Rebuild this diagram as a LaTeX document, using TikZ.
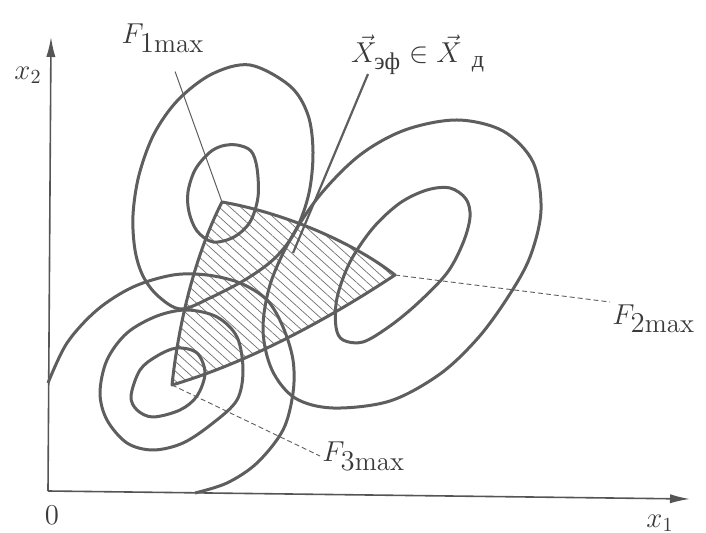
\documentclass[tikz,border=0pt]{standalone}
\usepackage{amsmath,amssymb}
\usepackage{fontspec}
\newfontfamily\cyrfont{Liberation Serif}
\usepackage{tikz}
\usetikzlibrary{arrows.meta,patterns.meta}
\definecolor{ink}{HTML}{3A3A3A}
\definecolor{curvegray}{HTML}{5E5E5E}
\definecolor{axisgray}{HTML}{555555}
\definecolor{hatchgray}{HTML}{707070}
\definecolor{paper}{HTML}{FFFFFF}
\tikzset{
  levelline/.style={draw=curvegray,line width=1.5pt,line join=round},
  closedlevel/.style={smooth cycle,tension=0.55},
  openlevel/.style={smooth,tension=0.55},
  axisline/.style={-{Latex[length=10pt,width=4.6pt]},draw=axisgray,line width=0.8pt},
  optzone/.style={draw=curvegray,line width=1.5pt,line join=round,pattern={Lines[angle=-42,distance=3.6pt,line width=0.35pt]},pattern color=hatchgray},
  thinlead/.style={draw=curvegray,line width=0.5pt},
  dashlead/.style={draw=curvegray,line width=0.45pt,dash pattern=on 2.5pt off 1.5pt},
  pointer/.style={draw=curvegray,line width=1.1pt},
  maxlabel/.style={text=ink,font=\fontsize{13.5}{15}\selectfont,inner sep=1pt},
  axlabel/.style={text=ink,font=\Large,inner sep=1pt}
}

\begin{document}
\begin{tikzpicture}[x=0.5pt,y=-0.5pt,>=Latex]
  \useasboundingbox[fill=paper] (0,0) rectangle (706,533);

  % axes
  \coordinate (o) at (48,491);
  \coordinate (ytip) at (51,37);
  \coordinate (xtip) at (690,499);
  \draw[axisline] (o) -- (ytip);
  \draw[axisline] (o) -- (xtip);
  \node[axlabel] (x2lab) at (28,75) {$x_2$};
  \node[axlabel] (x1lab) at (660,523) {$x_1$};
  \node[axlabel] (olab) at (52,515) {$0$};

  % maxima of the three criteria
  \coordinate (f1) at (222,202);
  \coordinate (f2) at (395,275);
  \coordinate (f3) at (172,385);

  % compromise zone
  \path[optzone] (f1) .. controls (280,212) and (350,240) .. (f2)
    .. controls (330,318) and (250,362) .. (f3)
    .. controls (180,310) and (200,245) .. (f1) -- cycle;

  % level lines of F1
  \draw[levelline] plot[closedlevel] coordinates {(250,65) (290,86) (308,115) (313,152) (309,193) (296,230) (276,257) (248,278) (212,297) (181,309) (158,296) (143,276) (135,250) (133,215) (139,175) (154,134) (178,100) (212,74)};
  \draw[levelline] plot[closedlevel] coordinates {(237,145) (251,151) (257,168) (258,197) (250,222) (234,237) (213,242) (197,231) (189,212) (188,192) (195,170) (209,153) (222,146)};

  % level lines of F2
  \draw[levelline] plot[closedlevel] coordinates {(457,120) (503,131) (533,162) (541,210) (530,257) (508,297) (478,338) (440,374) (390,401) (333,408) (295,398) (272,370) (263,330) (270,285) (290,240) (320,195) (360,155) (405,130)};
  \draw[levelline] plot[closedlevel] coordinates {(450,188) (466,199) (470,217) (463,243) (447,273) (418,303) (390,326) (363,342) (343,340) (336,327) (337,298) (350,262) (373,228) (400,203) (427,190)};

  % level lines of F3
  \draw[levelline] plot[closedlevel] coordinates {(140,370) (157,356) (177,348) (197,353) (205,373) (197,396) (180,410) (153,417) (137,410) (131,396)};
  \draw[levelline] plot[closedlevel] coordinates {(107,360) (127,333) (157,316) (187,310) (217,317) (237,337) (243,370) (237,400) (213,423) (183,443) (153,450) (127,443) (107,420) (100,393)};
  \draw[levelline] plot[openlevel] coordinates {(48,383) (67,343) (97,310) (133,287) (173,275) (207,275) (240,283) (267,300) (283,327) (293,360) (293,393) (283,430) (257,463) (227,483) (195,493)};

  % labels and leaders
  \node[maxlabel] (f1lab) at (163,38) {$F_{\textstyle 1\mathrm{max}}$};
  \node[maxlabel,anchor=north west] (f2lab) at (610,302) {$F_{\textstyle 2\mathrm{max}}$};
  \node[maxlabel,anchor=west] (f3lab) at (320,456) {$F_{\textstyle 3\mathrm{max}}$};
  \node[maxlabel,font=\Large] (xlab) at (418,55) {$\vec{X}_{\text{\cyrfont\large эф}}\in\vec{X}_{\hspace{6pt}\text{\cyrfont\large д}}$};
  \draw[thinlead,shorten <=9pt] (f1lab) -- (f1);
  \draw[dashlead] (f2) -- (f2lab.north west);
  \draw[dashlead] (f3) -- (f3lab.west);
  \coordinate (xtop) at (368,74);
  \coordinate (xeff) at (293,253);
  \draw[pointer] (xtop) -- (xeff);
\end{tikzpicture}
\end{document}
